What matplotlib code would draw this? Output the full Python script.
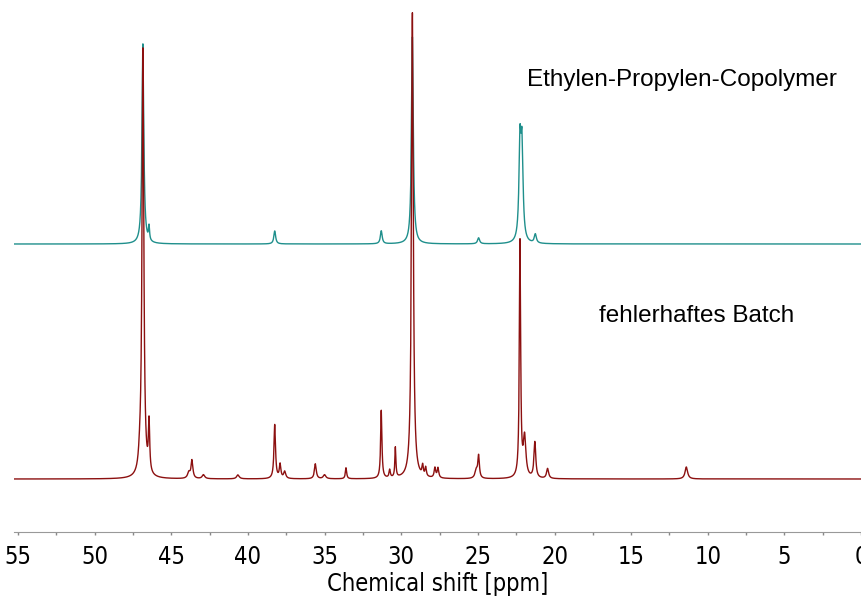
import matplotlib.pyplot as plt
import numpy as np
from matplotlib.ticker import MultipleLocator

# peak lists: position [ppm], height, half width [ppm]
copo_pos = [46.85, 46.45, 38.25, 31.30, 29.27, 24.95, 22.25, 22.12, 21.25]
copo_height = [200, 14, 13, 13, 207, 6, 94, 90, 9]
copo_width = [0.07, 0.04, 0.07, 0.07, 0.07, 0.08, 0.08, 0.08, 0.08]

batch_pos = [47.05, 46.85, 46.45, 43.85, 43.65, 42.9, 40.65, 38.25, 37.9, 37.6,
             35.6, 35.0, 33.6, 31.30, 30.75, 30.38, 29.27, 28.6, 28.4, 27.8,
             27.6, 25.1, 24.95, 22.25, 21.95, 21.28, 20.45, 11.4]
batch_height = [12, 428, 50, 6, 18, 4, 4, 54, 14, 7,
                15, 4, 11, 68, 8, 30, 466, 10, 9, 10,
                10, 8, 22, 236, 40, 36, 10, 12]
batch_width = [0.1, 0.07, 0.05, 0.1, 0.07, 0.1, 0.1, 0.06, 0.06, 0.08,
               0.07, 0.1, 0.05, 0.05, 0.05, 0.04, 0.07, 0.05, 0.05, 0.06,
               0.06, 0.1, 0.06, 0.05, 0.1, 0.07, 0.08, 0.1]

copo_offset = 288
batch_offset = 53


def spectrum(x, pos, height, width):
    y = np.zeros_like(x)
    for p, h, w in zip(pos, height, width):
        y += h / (1 + ((x - p) / w) ** 2)
    return y


ppm = np.linspace(-0.2, 55.5, 30000)

fig = plt.figure(figsize=(8.62, 6.03), dpi=100)
ax = fig.add_axes([14 / 862, 71 / 603, 848 / 862, 532 / 603])

ax.plot(ppm, spectrum(ppm, copo_pos, copo_height, copo_width) + copo_offset,
        color='#1f8f8c', lw=1.0)
ax.plot(ppm, spectrum(ppm, batch_pos, batch_height, batch_width) + batch_offset,
        color='#8c1010', lw=1.0)

ax.set_xlim(55.26, -0.06)
ax.set_ylim(0, 532)

for s in ['top', 'left', 'right']:
    ax.spines[s].set_visible(False)
ax.spines['bottom'].set_color('#999999')
ax.set_yticks([])
ax.xaxis.set_major_locator(MultipleLocator(5))
ax.xaxis.set_minor_locator(MultipleLocator(2.5))
ax.tick_params(axis='x', which='both', direction='out', length=2.5, width=1,
               color='#888888', pad=7, labelsize=17)
for lab in ax.get_xticklabels():
    lab.set_fontstretch('condensed')
ax.set_xlabel('Chemical shift [ppm]', fontsize=17, labelpad=2,
              fontstretch='condensed')

fig.text(682 / 862, 1 - 80 / 603, 'Ethylen-Propylen-Copolymer', fontsize=17.5,
         family='Liberation Sans', ha='center', va='center')
fig.text(697 / 862, 1 - 316 / 603, 'fehlerhaftes Batch', fontsize=17.5,
         family='Liberation Sans', ha='center', va='center')

fig.savefig('out.png', dpi=100)
